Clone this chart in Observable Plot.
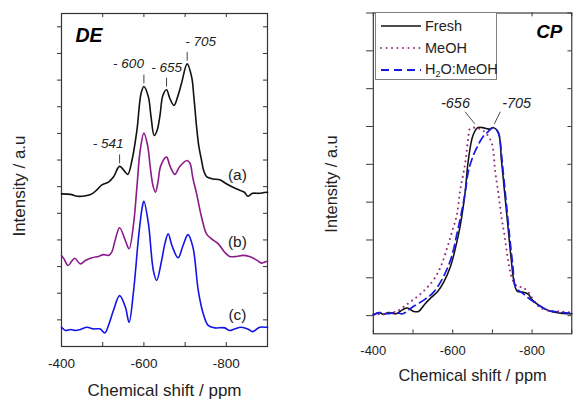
<!DOCTYPE html>
<html>
<head>
<meta charset="utf-8">
<script src="https://cdn.jsdelivr.net/npm/d3@7"></script>
<script src="https://cdn.jsdelivr.net/npm/@observablehq/plot@0.6"></script>
<style>
  html, body { margin: 0; padding: 0; background: #fff; overflow: hidden; width: 579px; height: 399px; }
  #fig { position: relative; width: 579px; height: 399px; overflow: hidden; font-family: "Liberation Sans", Arial, sans-serif; }
  #de { position: absolute; left: 0; top: 0; }
  #cp { position: absolute; left: 290px; top: 0; }
  #legend { position: absolute; left: 375px; top: 12px; width: 122px; height: 68px; border: 1px solid #808080; background: #fff;
            font-size: 14.5px; color: #222; box-sizing: border-box; }
  #legend .row { position: absolute; left: 4px; height: 18px; display: flex; align-items: center; white-space: nowrap; }
  #legend svg { margin-right: 3px; }
  #legend sub { font-size: 9px; vertical-align: -3px; }
</style>
</head>
<body>
<div id="fig">
  <div id="de"></div>
  <div id="cp"></div>
  <div id="legend"></div>
</div>
<script>
// ---- DE spectra: [chemical shift (ppm), intensity (a.u.)] ----
const deTraceA = [
  [-400,5.73],[-422,5.71],[-438,5.64],[-462,5.67],[-474,5.73],[-486,5.88],[-498,6.07],[-514,6.17],
  [-526,6.36],[-541,6.76],[-555,6.54],[-561,6.46],[-571,6.98],[-583,8.11],[-593,9.49],[-600,9.76],
  [-611,9.36],[-617,8.67],[-625,7.92],[-632,8.11],[-639,8.67],[-646,9.42],[-655,9.64],[-663,9.31],
  [-673,9.05],[-682,9.38],[-691,9.86],[-705,10.61],[-716,10.11],[-721,9.42],[-728,8.23],[-733,7.55],
  [-740,6.98],[-745,6.61],[-752,6.38],[-768,6.29],[-784,6.26],[-800,6.11],[-824,5.92],[-844,5.79],
  [-852,5.64],[-864,5.75],[-880,5.75],[-897,5.79],[-900,5.78]
];
const deTraceB = [
  [-400,3.42],[-406,3.29],[-416,3.04],[-426,3.23],[-432,3.31],[-446,3.10],[-458,3.23],[-474,3.33],
  [-490,3.38],[-502,3.45],[-514,3.42],[-522,3.54],[-530,3.98],[-541,4.46],[-555,3.98],[-564,3.67],
  [-575,4.61],[-583,5.98],[-591,7.36],[-600,8.01],[-609,7.55],[-615,6.79],[-622,6.04],[-628,5.79],
  [-634,6.16],[-641,6.79],[-655,7.11],[-663,6.79],[-675,6.46],[-687,6.76],[-705,6.98],[-712,6.87],
  [-719,6.31],[-728,5.73],[-740,4.85],[-752,4.23],[-764,4.04],[-780,3.86],[-796,3.54],[-808,3.38],
  [-824,3.38],[-840,3.42],[-856,3.38],[-873,3.25],[-885,3.13],[-897,3.19],[-900,3.20]
];
const deTraceC = [
  [-400,0.72],[-410,0.60],[-422,0.64],[-434,0.60],[-446,0.64],[-462,0.72],[-478,0.66],[-494,0.66],
  [-505,0.51],[-514,0.79],[-526,1.35],[-541,1.91],[-555,1.48],[-564,0.91],[-575,2.10],[-587,4.10],
  [-596,5.23],[-600,5.45],[-611,4.61],[-623,2.85],[-631,2.48],[-643,3.23],[-651,3.86],[-659,4.23],
  [-668,3.79],[-683,3.33],[-695,3.79],[-707,4.20],[-719,3.73],[-732,2.10],[-744,1.23],[-756,0.79],
  [-772,0.70],[-796,0.70],[-808,0.60],[-820,0.66],[-836,0.72],[-852,0.66],[-864,0.56],[-881,0.72],
  [-897,0.72],[-900,0.72]
];
const deTraceNames = ["(a)", "(b)", "(c)"];
const dePeakShifts = [-541, -600, -655, -705];
const dePeakLabels = ["- 541", "- 600", "- 655", "- 705"];

// ---- CP spectra: [chemical shift (ppm), intensity (a.u.)] ----
const cpFresh = [
  [-400,0.01],[-414,0.08],[-426,0.03],[-438,0.08],[-458,0.05],[-474,0.16],[-486,0.20],[-502,0.11],
  [-514,0.11],[-530,0.31],[-546,0.48],[-562,0.64],[-578,0.90],[-595,1.32],[-607,1.79],[-619,2.38],
  [-631,3.23],[-639,4.08],[-651,4.76],[-663,4.97],[-675,4.97],[-691,4.93],[-703,4.97],[-715,4.84],
  [-723,4.08],[-731,3.23],[-739,2.38],[-747,1.53],[-755,0.86],[-763,0.64],[-779,0.62],[-791,0.56],
  [-799,0.43],[-819,0.26],[-843,0.13],[-868,0.07],[-889,0.05],[-900,0.05]
];
const cpMeOH = [
  [-400,0.03],[-430,0.05],[-460,0.12],[-486,0.31],[-502,0.43],[-522,0.60],[-538,0.77],[-554,0.98],
  [-570,1.30],[-586,1.79],[-598,2.21],[-610,2.64],[-619,3.32],[-631,4.00],[-639,4.67],[-643,4.93],
  [-655,4.97],[-667,4.94],[-682,4.84],[-698,4.57],[-707,3.82],[-715,3.23],[-723,2.60],[-731,2.09],
  [-739,1.50],[-751,0.94],[-763,0.77],[-775,0.75],[-787,0.66],[-803,0.43],[-819,0.22],[-843,0.13],
  [-868,0.11],[-900,0.08]
];
const cpH2OMeOH = [
  [-400,0.03],[-418,0.08],[-434,0.05],[-458,0.08],[-474,0.05],[-498,0.22],[-530,0.43],[-550,0.60],
  [-570,0.90],[-586,1.24],[-598,1.58],[-610,2.13],[-622,2.72],[-631,3.23],[-639,3.79],[-648,4.12],
  [-659,4.40],[-675,4.71],[-687,4.84],[-703,4.97],[-715,4.83],[-723,4.25],[-727,3.82],[-735,2.98],
  [-743,2.13],[-751,1.37],[-759,0.74],[-775,0.60],[-795,0.43],[-819,0.26],[-843,0.13],[-868,0.09],
  [-900,0.06]
];
const cpSeriesNames = ["Fresh", "MeOH", "H\u2082O:MeOH"];
const cpPeakShifts = [-656, -705];
const cpPeakLabels = ["-656", "-705"];

// ---- axes ----
const xTicks = d3.range(-400, -901, -100);
const xTickLabels = [-400, -600, -800];
const deYTicks = d3.range(1, 13);
const cpYTicks = d3.range(0, 9);

const FONT = "'Liberation Sans', Arial, Helvetica, sans-serif";
const frameColor = "#333";
const colA = "#111", colB = "#8b1a8b", colC = "#1414e6";
const colFresh = "#111", colMeOH = "#9b2f7f", colMix = "#1a1ae0";

const px = d => d[0], py = d => d[1];
const curve = "catmull-rom";

// frame ticks shared by both panels (inner size 206 x 333)
function frameTicks(yTicks, innerW, innerH, leftTickLen) {
  return [
    Plot.tickX(xTicks, {x: d => d, insetTop: innerH - 4, stroke: frameColor}),
    Plot.tickX(xTicks, {x: d => d, insetBottom: innerH - 4, stroke: frameColor}),
    Plot.tickY(yTicks, {y: d => d, insetLeft: innerW - 4, stroke: frameColor}),
    Plot.axisY(yTicks, {tickSize: leftTickLen, tickFormat: () => "", label: null, stroke: frameColor}),
    Plot.axisX(xTickLabels, {tickSize: 0, tickPadding: 12, tickFormat: d => String(d), label: null, fontSize: 13.5, fill: "#222"}),
    Plot.frame({stroke: frameColor, strokeWidth: 1.2})
  ];
}

function valueAt(trace, shift) {
  let best = trace[0];
  for (const d of trace) if (Math.abs(d[0] - shift) < Math.abs(best[0] - shift)) best = d;
  return best[1];
}

// ---- DE panel ----
const dePeaks = dePeakShifts.map((s, i) => ({shift: s, label: dePeakLabels[i], top: valueAt(deTraceA, s) + 0.43}));
const peakText = {fontStyle: "italic", fontSize: 13.5, fill: "#222", lineAnchor: "middle", dy: -11};
const traceLabelShift = -827;

const de = Plot.plot({
  width: 290, height: 399,
  marginLeft: 61, marginRight: 23, marginTop: 13, marginBottom: 53,
  x: {domain: [-400, -900]},
  y: {domain: [0, 12.5]},
  style: {fontFamily: FONT, fontSize: "13.5px", background: "transparent", color: "#222"},
  marks: [
    ...frameTicks(deYTicks, 206, 333, 4),
    Plot.line(deTraceC, {x: px, y: py, stroke: colC, strokeWidth: 1.6, curve}),
    Plot.line(deTraceB, {x: px, y: py, stroke: colB, strokeWidth: 1.6, curve}),
    Plot.line(deTraceA, {x: px, y: py, stroke: colA, strokeWidth: 1.6, curve}),
    // peak markers on trace (a)
    Plot.ruleX(dePeaks, {x: "shift", y1: d => d.top - 0.33, y2: "top", stroke: "#444", strokeWidth: 1}),
    Plot.text(dePeaks.slice(0, 1), {x: "shift", y: "top", text: "label", textAnchor: "end", dx: 4, ...peakText}),
    Plot.text(dePeaks.slice(1, 2), {x: "shift", y: "top", text: "label", textAnchor: "end", dx: 0, ...peakText}),
    Plot.text(dePeaks.slice(2, 3), {x: "shift", y: "top", text: "label", textAnchor: "middle", ...peakText}),
    Plot.text(dePeaks.slice(3, 4), {x: "shift", y: "top", text: "label", textAnchor: "start", dx: -2, ...peakText}),
    // trace names
    Plot.text([deTraceA, deTraceB, deTraceC], {
      x: traceLabelShift, y: t => valueAt(t, traceLabelShift) + 0.53, text: (t, i) => deTraceNames[i],
      fontSize: 15.5, fill: "#222", lineAnchor: "middle"
    }),
    Plot.text(["DE"], {frameAnchor: "top-left", dx: 14, dy: 22, textAnchor: "start", lineAnchor: "middle",
      fontWeight: "bold", fontStyle: "italic", fontSize: 19.5, fill: "#000"}),
    Plot.text(["Intensity / a.u"], {frameAnchor: "left", dx: -42, dy: 6, rotate: -90, textAnchor: "middle", lineAnchor: "middle", fontSize: 17, fill: "#222"}),
    Plot.text(["Chemical shift / ppm"], {frameAnchor: "bottom", dy: 44, textAnchor: "middle", lineAnchor: "middle", fontSize: 17, fill: "#222"})
  ]
});
document.getElementById("de").append(de);

// ---- CP panel ----
const cpTop = valueAt(cpFresh, -703);
const cpPeaks = cpPeakShifts.map((s, i) => ({shift: s, label: cpPeakLabels[i]}));
const leadOffset = [25, -15];   // ppm offset of each leader line's upper end
const textOffset = [49, -56];   // ppm offset of each label

const cp = Plot.plot({
  width: 300, height: 399,
  marginLeft: 86, marginRight: 8, marginTop: 13, marginBottom: 53,
  x: {domain: [-400, -900]},
  y: {domain: [-0.48, 8]},
  style: {fontFamily: FONT, fontSize: "13.5px", background: "transparent", color: "#222"},
  marks: [
    ...frameTicks(cpYTicks, 206, 333, 7),
    Plot.line(cpFresh, {x: px, y: py, stroke: colFresh, strokeWidth: 1.6, curve}),
    Plot.line(cpMeOH, {x: px, y: py, stroke: colMeOH, strokeWidth: 2.2, strokeDasharray: "0,5.5", strokeLinecap: "round", curve}),
    Plot.line(cpH2OMeOH, {x: px, y: py, stroke: colMix, strokeWidth: 1.8, strokeDasharray: "8,5", curve}),
    Plot.link(cpPeaks, {x1: "shift", y1: cpTop + 0.1, x2: (d, i) => d.shift + leadOffset[i], y2: cpTop + 0.42, stroke: "#444", strokeWidth: 1}),
    Plot.text(cpPeaks, {x: (d, i) => d.shift + textOffset[i], y: cpTop + 0.64, text: "label", lineAnchor: "middle",
      fontStyle: "italic", fontSize: 15, fill: "#222"}),
    Plot.text(["CP"], {frameAnchor: "top-left", dx: 169, dy: 20, textAnchor: "start", lineAnchor: "middle",
      fontWeight: "bold", fontStyle: "italic", fontSize: 19.5, fill: "#000"}),
    Plot.text(["Intensity / a.u"], {frameAnchor: "left", dx: -43, dy: 11, rotate: -90, textAnchor: "middle", lineAnchor: "middle", fontSize: 17, fill: "#222"}),
    Plot.text(["Chemical shift / ppm"], {frameAnchor: "bottom", dy: 44, textAnchor: "middle", lineAnchor: "middle", fontSize: 17, fill: "#222"})
  ]
});
document.getElementById("cp").append(cp);

// ---- legend for the CP panel ----
const legendStyles = [
  {stroke: colFresh, width: 1.6, dash: null, cap: "butt"},
  {stroke: colMeOH, width: 2, dash: "0,5.5", cap: "round"},
  {stroke: colMix, width: 1.8, dash: "8,5", cap: "butt"}
];
const legend = document.getElementById("legend");
cpSeriesNames.forEach((name, i) => {
  const s = legendStyles[i];
  const row = document.createElement("div");
  row.className = "row";
  row.style.top = (4 + i * 22) + "px";
  const dash = s.dash ? ` stroke-dasharray="${s.dash}"` : "";
  const label = name.replace("\u2082", "<sub>2</sub>");
  row.innerHTML = `<svg width="42" height="10"><line x1="1" y1="5" x2="41" y2="5" stroke="${s.stroke}" stroke-width="${s.width}" stroke-linecap="${s.cap}"${dash}/></svg><span>${label}</span>`;
  legend.append(row);
});
</script>
</body>
</html>
